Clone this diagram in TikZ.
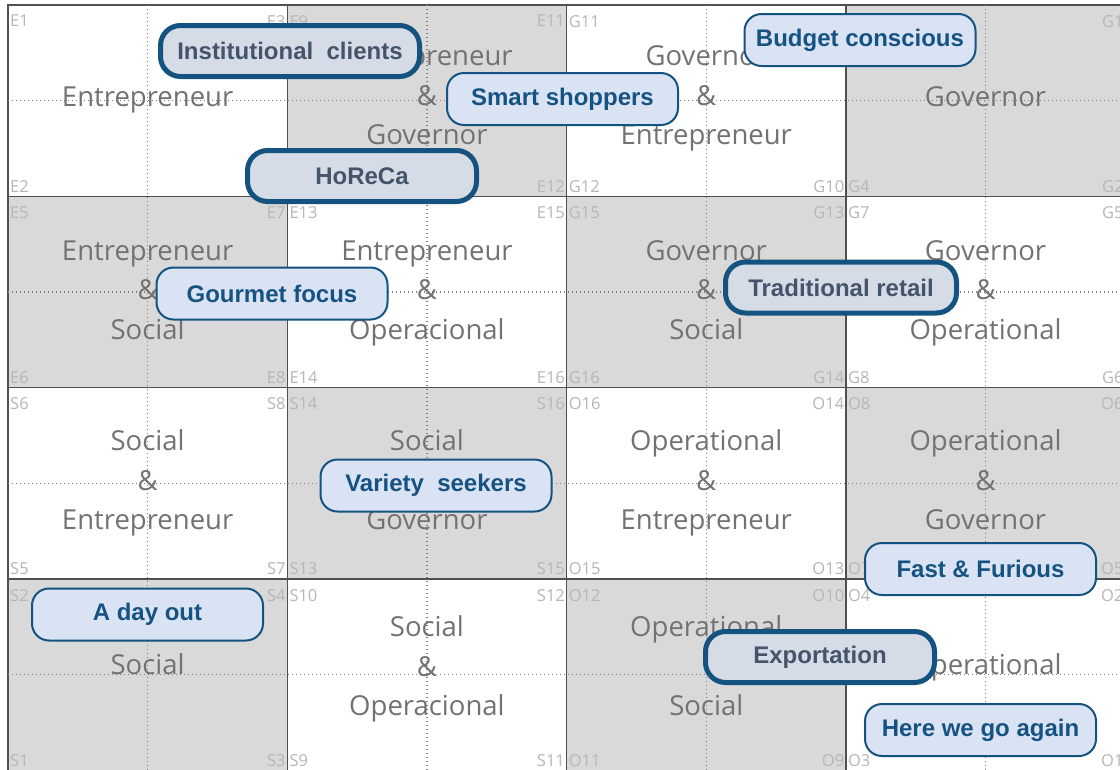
\documentclass[tikz,border=0pt]{standalone}
\usepackage{fontspec}
\setmainfont{Open Sans}
\newfontfamily\boxfont{Liberation Sans}

\definecolor{cellgray}{RGB}{217,217,217}
\definecolor{gridline}{RGB}{80,80,80}
\definecolor{celltext}{RGB}{118,113,113}
\definecolor{cornertext}{RGB}{182,182,182}
\definecolor{dotline}{RGB}{125,125,125}
\definecolor{boxedge}{RGB}{20,82,128}
\definecolor{thinfill}{RGB}{218,227,243}
\definecolor{thickfill}{RGB}{214,220,229}
\definecolor{thicktext}{RGB}{68,84,106}
\definecolor{thintext}{RGB}{22,83,130}

% uniform line strut: 21pt above, 7pt below the baseline
\newcommand\ls{\rule[-7pt]{0pt}{28pt}}

\tikzset{
  cell/.style={minimum width=279.3pt, minimum height=191.3pt, inner sep=0pt,
    outer sep=0pt, draw=gridline, line width=1.3pt},
  shaded/.style={cell, fill=cellgray},
  plain/.style={cell, fill=white},
  midline/.style={draw=dotline, line width=1.1pt, dash pattern=on 1.1pt off 2.9pt},
  duo/.style={text=celltext, align=center, inner sep=0pt,
    font=\fontsize{27.5}{39.5}\selectfont},
  corner/.style={text=cornertext, inner sep=0pt, font=\fontsize{16.5}{16.5}\selectfont},
  tl/.style={corner, anchor=north west, xshift=2pt, yshift=-10pt},
  tr/.style={corner, anchor=north east, xshift=-1.5pt, yshift=-10pt},
  bl/.style={corner, anchor=base west, xshift=2pt, yshift=4pt},
  br/.style={corner, anchor=base east, xshift=-1.5pt, yshift=4pt},
  segment/.style={align=center, inner sep=0pt,
    font=\boxfont\bfseries\fontsize{24}{26}\selectfont},
  thinseg/.style={segment, rounded corners=17pt, draw=boxedge, line width=2pt,
    fill=thinfill, text=thintext, minimum width=231pt, minimum height=52pt},
  thickseg/.style={segment, rounded corners=20pt, draw=boxedge, line width=5pt,
    fill=thickfill, text=thicktext, minimum width=229pt, minimum height=51pt},
}

\begin{document}
\begin{tikzpicture}[x=1pt, y=-1pt]
\useasboundingbox (0,0) rectangle (1120,769);
\clip (0,0) rectangle (1120,769);
\fill[white] (0,0) rectangle (1120,769);

% checkerboard of cells
\foreach \r in {1,...,4} {
  \foreach \c in {1,...,4} {
    \pgfmathsetmacro\cx{8+279.3*(\c-0.5)}
    \pgfmathsetmacro\cy{5+191.3*(\r-0.5)}
    \pgfmathtruncatemacro\odd{mod(\r+\c,2)}
    \ifnum\odd=1
      \node[shaded] (cell\r\c) at (\cx,\cy) {};
    \else
      \node[plain] (cell\r\c) at (\cx,\cy) {};
    \fi
  }
}

% dotted centre lines
\foreach \r in {1,...,4} \draw[midline] (cell\r1.west) -- (cell\r4.east);
\foreach \c in {1,...,4} \draw[midline] (cell1\c.north) -- (cell4\c.south);

% role combinations
\node[duo, yshift=1pt]   (w11) at (cell11) {\ls Entrepreneur};
\node[duo, yshift=2.6pt] (w12) at (cell12) {\ls Entrepreneur\\\ls\&\\\ls Governor};
\node[duo, yshift=2.6pt] (w13) at (cell13) {\ls Governor\\\ls\&\\\ls Entrepreneur};
\node[duo, yshift=1pt]   (w14) at (cell14) {\ls Governor};
\node[duo, yshift=-1pt]  (w21) at (cell21) {\ls Entrepreneur\\\ls\&\\\ls Social};
\node[duo, yshift=-1pt]  (w22) at (cell22) {\ls Entrepreneur\\\ls\&\\\ls Operacional};
\node[duo, yshift=-1pt]  (w23) at (cell23) {\ls Governor\\\ls\&\\\ls Social};
\node[duo, yshift=-1pt]  (w24) at (cell24) {\ls Governor\\\ls\&\\\ls Operational};
\node[duo, yshift=0pt]   (w31) at (cell31) {\ls Social\\\ls\&\\\ls Entrepreneur};
\node[duo, yshift=0pt]   (w32) at (cell32) {\ls Social\\\ls\&\\\ls Governor};
\node[duo, yshift=0pt]   (w33) at (cell33) {\ls Operational\\\ls\&\\\ls Entrepreneur};
\node[duo, yshift=0pt]   (w34) at (cell34) {\ls Operational\\\ls\&\\\ls Governor};
\node[duo, yshift=7.5pt] (w41) at (cell41) {\ls Social};
\node[duo, yshift=5.5pt] (w42) at (cell42) {\ls Social\\\ls\&\\\ls Operacional};
\node[duo, yshift=5.5pt] (w43) at (cell43) {\ls Operational\\\ls\\\ls Social};
\node[duo, yshift=7.5pt] (w44) at (cell44) {\ls Operational};

% corner codes
\node[tl] (k11a) at (cell11.north west) {E1};
\node[tr] (k11b) at (cell11.north east) {E3};
\node[bl] (k11c) at (cell11.south west) {E2};
\node[tl] (k12a) at (cell12.north west) {E9};
\node[tr] (k12b) at (cell12.north east) {E11};
\node[br] (k12d) at (cell12.south east) {E12};
\node[tl] (k13a) at (cell13.north west) {G11};
\node[bl] (k13c) at (cell13.south west) {G12};
\node[br] (k13d) at (cell13.south east) {G10};
\node[tr] (k14b) at (cell14.north east) {G1};
\node[bl] (k14c) at (cell14.south west) {G4};
\node[br] (k14d) at (cell14.south east) {G2};

\node[tl] (k21a) at (cell21.north west) {E5};
\node[tr] (k21b) at (cell21.north east) {E7};
\node[bl] (k21c) at (cell21.south west) {E6};
\node[br] (k21d) at (cell21.south east) {E8};
\node[tl] (k22a) at (cell22.north west) {E13};
\node[tr] (k22b) at (cell22.north east) {E15};
\node[bl] (k22c) at (cell22.south west) {E14};
\node[br] (k22d) at (cell22.south east) {E16};
\node[tl] (k23a) at (cell23.north west) {G15};
\node[tr] (k23b) at (cell23.north east) {G13};
\node[bl] (k23c) at (cell23.south west) {G16};
\node[br] (k23d) at (cell23.south east) {G14};
\node[tl] (k24a) at (cell24.north west) {G7};
\node[tr] (k24b) at (cell24.north east) {G5};
\node[bl] (k24c) at (cell24.south west) {G8};
\node[br] (k24d) at (cell24.south east) {G6};

\node[tl] (k31a) at (cell31.north west) {S6};
\node[tr] (k31b) at (cell31.north east) {S8};
\node[bl] (k31c) at (cell31.south west) {S5};
\node[br] (k31d) at (cell31.south east) {S7};
\node[tl] (k32a) at (cell32.north west) {S14};
\node[tr] (k32b) at (cell32.north east) {S16};
\node[bl] (k32c) at (cell32.south west) {S13};
\node[br] (k32d) at (cell32.south east) {S15};
\node[tl] (k33a) at (cell33.north west) {O16};
\node[tr] (k33b) at (cell33.north east) {O14};
\node[bl] (k33c) at (cell33.south west) {O15};
\node[br] (k33d) at (cell33.south east) {O13};
\node[tl] (k34a) at (cell34.north west) {O8};
\node[tr] (k34b) at (cell34.north east) {O6};
\node[bl] (k34c) at (cell34.south west) {O7};
\node[br] (k34d) at (cell34.south east) {O5};

\node[tl] (k41a) at (cell41.north west) {S2};
\node[tr] (k41b) at (cell41.north east) {S4};
\node[bl] (k41c) at (cell41.south west) {S1};
\node[br] (k41d) at (cell41.south east) {S3};
\node[tl] (k42a) at (cell42.north west) {S10};
\node[tr] (k42b) at (cell42.north east) {S12};
\node[bl] (k42c) at (cell42.south west) {S9};
\node[br] (k42d) at (cell42.south east) {S11};
\node[tl] (k43a) at (cell43.north west) {O12};
\node[tr] (k43b) at (cell43.north east) {O10};
\node[bl] (k43c) at (cell43.south west) {O11};
\node[br] (k43d) at (cell43.south east) {O9};
\node[tl] (k44a) at (cell44.north west) {O4};
\node[tr] (k44b) at (cell44.north east) {O2};
\node[bl] (k44c) at (cell44.south west) {O3};
\node[br] (k44d) at (cell44.south east) {O1};

% customer segments
\node[thickseg, minimum width=259pt] (inst) at (290,51) {Institutional\ \ clients};
\node[thinseg] (smart)   at (562.5,99)  {Smart shoppers};
\node[thickseg] (horeca) at (362,176)   {HoReCa};
\node[thinseg] (budget)  at (860,40)    {Budget conscious};
\node[thinseg] (gourmet) at (272,293.5) {Gourmet focus};
\node[thickseg, minimum width=231pt] (trad) at (841,287.5) {Traditional retail};
\node[thinseg] (variety) at (436,485.5) {Variety\ \ seekers};
\node[thinseg] (fast)    at (980.5,569) {Fast \& Furious};
\node[thinseg] (dayout)  at (147.5,614.5) {A day out};
\node[thickseg] (export) at (820,657)   {Exportation};
\node[thinseg] (again)   at (980.5,730) {Here we go again};
\end{tikzpicture}
\end{document}
